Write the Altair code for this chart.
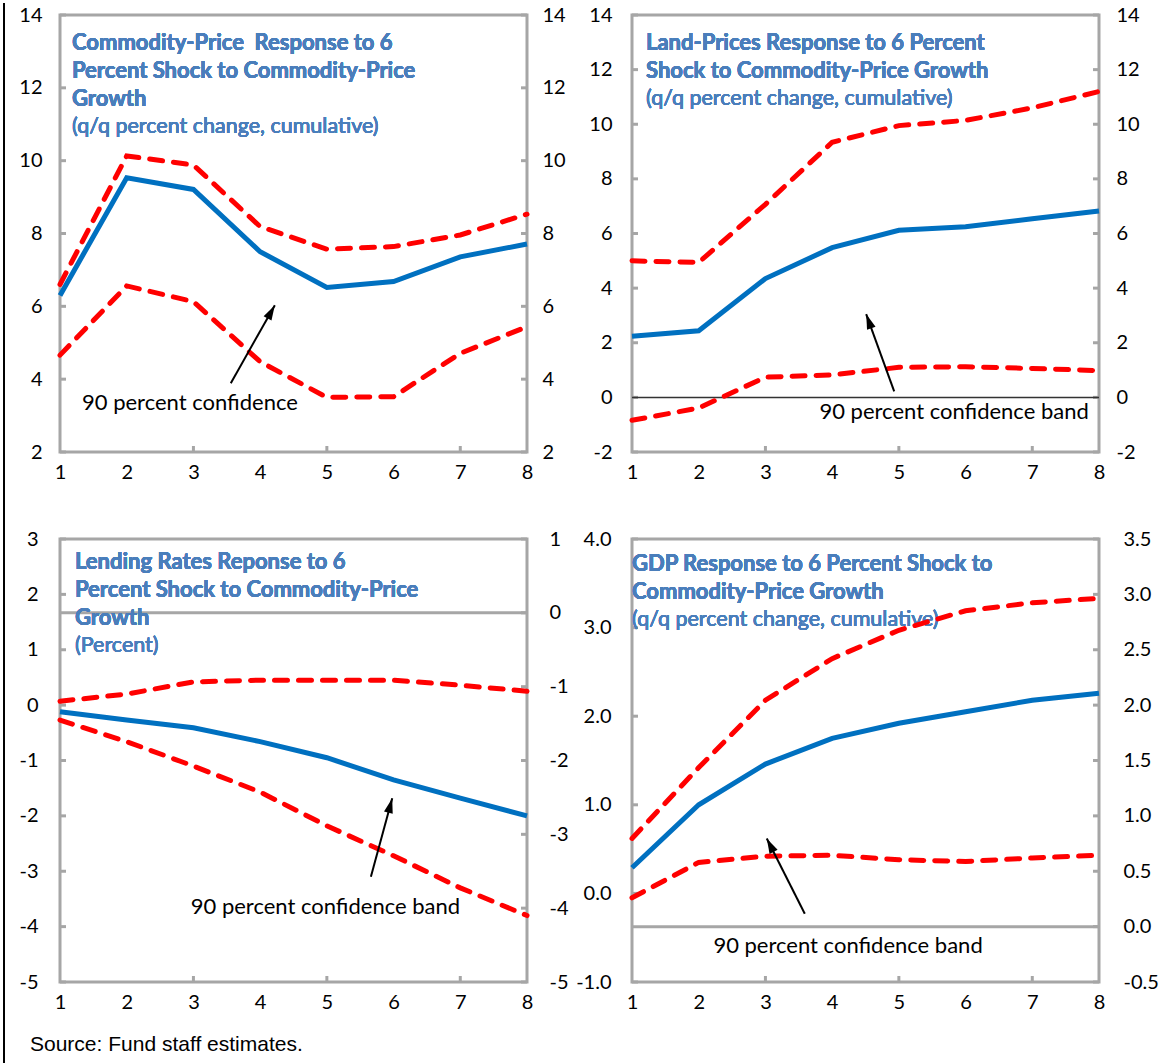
import altair as alt
import pandas as pd

# Quarters after the shock
steps = [1, 2, 3, 4, 5, 6, 7, 8]

# Commodity-price response (point estimate and 90 percent band)
commodity_mid = [6.3, 9.53, 9.21, 7.5, 6.52, 6.68, 7.36, 7.71]
commodity_hi = [6.6, 10.13, 9.88, 8.19, 7.57, 7.64, 7.96, 8.53]
commodity_lo = [4.66, 6.56, 6.13, 4.48, 3.5, 3.52, 4.71, 5.44]

# Land-price response
land_mid = [2.24, 2.44, 4.35, 5.48, 6.12, 6.25, 6.54, 6.82]
land_hi = [5.0, 4.94, 7.07, 9.34, 9.95, 10.14, 10.6, 11.2]
land_lo = [-0.84, -0.39, 0.74, 0.82, 1.1, 1.12, 1.06, 0.98]

# Lending-rate response
lending_mid = [-0.12, -0.27, -0.41, -0.66, -0.95, -1.35, -1.68, -2.0]
lending_hi = [0.07, 0.2, 0.42, 0.45, 0.45, 0.45, 0.36, 0.25]
lending_lo = [-0.27, -0.66, -1.1, -1.57, -2.18, -2.72, -3.3, -3.8]

# GDP response
gdp_mid = [0.29, 1.0, 1.46, 1.75, 1.92, 2.05, 2.18, 2.26]
gdp_hi = [0.62, 1.42, 2.18, 2.65, 2.97, 3.19, 3.28, 3.33]
gdp_lo = [-0.05, 0.35, 0.42, 0.43, 0.38, 0.36, 0.4, 0.43]

# Axis tick values
ticks_commodity = [2, 4, 6, 8, 10, 12, 14]
ticks_land = [-2, 0, 2, 4, 6, 8, 10, 12, 14]
ticks_lending_left = [-5, -4, -3, -2, -1, 0, 1, 2, 3]
ticks_lending_right = [-5, -4, -3, -2, -1, 0, 1]
ticks_gdp_left = [-1.0, 0.0, 1.0, 2.0, 3.0, 4.0]
ticks_gdp_right = [-0.5, 0.0, 0.5, 1.0, 1.5, 2.0, 2.5, 3.0, 3.5]
minor_steps = [3, 5, 7]

TITLE_BLUE = "#4A7EBB"
LINE_BLUE = "#0070C0"
RED = "#FF0000"
FRAME = "#A6A6A6"
FONT = "Lato"
MINUS_FIX = "replace(datum.label, '\u2212', '-')"
# slim arrowhead whose tip sits on the anchor point
ARROW_HEAD = "M0,0L0.3,1L-0.3,1Z"


def x_enc():
    return alt.X(
        "step:Q",
        scale=alt.Scale(domain=[1, 8], nice=False, zero=False),
        axis=alt.Axis(values=steps, format="d", labelPadding=10,
                      labelFlush=False, labelOverlap=False),
    )


def y_enc(field, dom, ticks, fmt, orient, pad):
    return alt.Y(
        f"{field}:Q",
        scale=alt.Scale(domain=dom, nice=False, zero=False),
        axis=alt.Axis(orient=orient, values=ticks, format=fmt, labelExpr=MINUS_FIX,
                      labelPadding=pad, labelOverlap=False, labelFlush=False),
    )


def panel(mid, hi, lo, left_dom, left_ticks, left_fmt, left_pad,
          right_dom, right_ticks, right_fmt, right_pad,
          title_lines, subtitle, title_dx, title_dy,
          note, note_xy, arrow, w, h, zero=None, extras=()):
    df = pd.DataFrame({"step": steps, "mid": mid, "hi": hi, "lo": lo})

    def ly(field):
        return y_enc(field, left_dom, left_ticks, left_fmt, "left", left_pad)

    def ry(field):
        return y_enc(field, right_dom, right_ticks, right_fmt, "right", right_pad)

    # right-hand scale: inward ticks and (optionally) its zero line
    rdf = pd.DataFrame({"rv": right_ticks})
    right_layers = [
        alt.Chart(rdf).mark_rule(color=FRAME, strokeWidth=3).encode(
            y=ry("rv"), x=alt.value(w - 6), x2=alt.value(w))
    ]
    if zero == "right":
        right_layers.append(
            alt.Chart(pd.DataFrame({"rv": [0]})).mark_rule(color=FRAME, strokeWidth=3).encode(
                y=ry("rv")))
    right_group = alt.layer(*right_layers)

    ldf = pd.DataFrame({"lv": left_ticks})
    layers = [
        alt.Chart(ldf).mark_rule(color=FRAME, strokeWidth=3).encode(
            y=ly("lv"), x=alt.value(0), x2=alt.value(6)),
        alt.Chart(pd.DataFrame({"step": minor_steps})).mark_rule(color=FRAME, strokeWidth=3).encode(
            x=x_enc(), y=alt.value(h - 6), y2=alt.value(h)),
        alt.Chart(df).mark_text(
            text=title_lines, lineHeight=28, align="left", baseline="alphabetic",
            font=FONT, fontSize=22, fontWeight="bold", color=TITLE_BLUE,
        ).encode(x=alt.value(title_dx), y=alt.value(title_dy)),
        alt.Chart(df).mark_text(
            text=subtitle, align="left", baseline="alphabetic",
            font=FONT, fontSize=21.5, color=TITLE_BLUE,
        ).encode(x=alt.value(title_dx), y=alt.value(title_dy + 28 * len(title_lines) - 1)),
    ]
    if zero == "left":
        layers.append(
            alt.Chart(pd.DataFrame({"lv": [0]})).mark_rule(color="#333333", strokeWidth=1.5).encode(
                y=ly("lv")))
    layers += [
        alt.Chart(df).mark_line(color=RED, strokeWidth=5, strokeDash=[13, 11],
                                strokeCap="round").encode(x=x_enc(), y=ly("hi")),
        alt.Chart(df).mark_line(color=RED, strokeWidth=5, strokeDash=[13, 11],
                                strokeCap="round").encode(x=x_enc(), y=ly("lo")),
        alt.Chart(df).mark_line(color=LINE_BLUE, strokeWidth=5).encode(x=x_enc(), y=ly("mid")),
    ]
    # confidence-band note with its arrow
    ndf = pd.DataFrame({"step": [note_xy[0]], "ny": [note_xy[1]]})
    layers.append(
        alt.Chart(ndf).mark_text(text=note, align="left", baseline="middle",
                                 font=FONT, fontSize=22, color="black").encode(
            x=x_enc(), y=ly("ny")))
    (tx, ty), (hx, hy), ang = arrow
    adf = pd.DataFrame({"step": [tx], "ay": [ty], "step2": [hx], "ay2": [hy]})
    layers.append(
        alt.Chart(adf).mark_rule(color="black", strokeWidth=2).encode(
            x=x_enc(), y=ly("ay"), x2="step2:Q", y2="ay2:Q"))
    hdf = pd.DataFrame({"step": [hx], "ay": [hy]})
    layers.append(
        alt.Chart(hdf).mark_point(shape=ARROW_HEAD, filled=True, size=900, angle=ang,
                                  color="black", opacity=1).encode(x=x_enc(), y=ly("ay")))
    layers += list(extras)
    left_group = alt.layer(*layers)

    return alt.layer(right_group, left_group).resolve_scale(y="independent").properties(
        width=w, height=h)


W = 467
H1 = 437
H2 = 443

border = alt.Chart(pd.DataFrame({"k": [0]})).mark_rule(color="black", strokeWidth=2).encode(
    x=alt.value(-56), y=alt.value(-12), y2=alt.value(1051))

source = alt.Chart(pd.DataFrame({"k": [0]})).mark_text(
    text="Source: Fund staff estimates.", align="left", baseline="alphabetic",
    font="Liberation Sans", fontSize=21, color="black",
).encode(x=alt.value(-30), y=alt.value(512))

p1 = panel(commodity_mid, commodity_hi, commodity_lo,
           [2, 14], ticks_commodity, "d", 18,
           [2, 14], ticks_commodity, "d", 15,
           ["Commodity-Price\u00a0 Response to 6", "Percent Shock to Commodity-Price", "Growth"],
           "(q/q percent change, cumulative)", 12, 35,
           "90 percent confidence", (1.33, 3.35),
           ((3.56, 3.89), (4.22, 6.03), 29), W, H1, extras=[border])

p2 = panel(land_mid, land_hi, land_lo,
           [-2, 14], ticks_land, "d", 20,
           [-2, 14], ticks_land, "d", 17,
           ["Land-Prices Response to 6 Percent", "Shock to Commodity-Price Growth"],
           "(q/q percent change, cumulative)", 14, 35,
           "90 percent confidence band", (3.81, -0.53),
           ((4.93, 0.22), (4.51, 3.05), 340), W, H1, zero="left")

p3 = panel(lending_mid, lending_hi, lending_lo,
           [-5, 3], ticks_lending_left, "d", 22,
           [-5, 1], ticks_lending_right, "d", 22,
           ["Lending Rates Reponse to 6", "Percent Shock to Commodity-Price", "Growth"],
           "(Percent)", 15, 30,
           "90 percent confidence band", (2.96, -3.65),
           ((5.66, -3.1), (5.98, -1.68), 15), W, H2, zero="right", extras=[source])

p4 = panel(gdp_mid, gdp_hi, gdp_lo,
           [-1, 4], ticks_gdp_left, ".1f", 21,
           [-0.5, 3.5], ticks_gdp_right, ".1f", 24,
           ["GDP Response to 6 Percent Shock to", "Commodity-Price Growth"],
           "(q/q percent change, cumulative)", 0, 32,
           "90 percent confidence band", (2.22, -0.59),
           ((3.59, -0.23), (3.02, 0.62), 333), W, H2, zero="right")

chart = alt.concat(
    p1, p2, p3, p4, columns=2, spacing={"row": 87, "column": 105}, bounds="flush"
).properties(
    padding={"left": 1, "top": 0, "right": 0, "bottom": 0},
    background="white",
).configure_view(
    stroke=FRAME, strokeWidth=3
).configure_axis(
    labelFont=FONT, labelFontSize=20, labelColor="black",
    ticks=False, domain=False, grid=False, title=None,
)

chart.save("out.html", embed_options={"renderer": "svg", "actions": False})
